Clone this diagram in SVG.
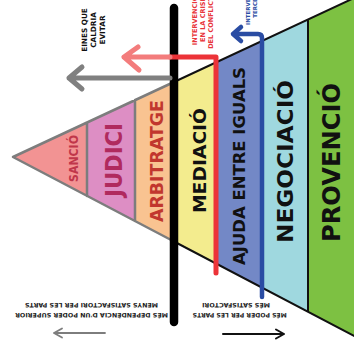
<svg xmlns="http://www.w3.org/2000/svg" width="354" height="355" viewBox="0 0 354 355">
<style>
.t{font-family:"DejaVu Sans","Liberation Sans",sans-serif;font-weight:bold;text-anchor:middle}
.edgeG{stroke:#7d7d7d;stroke-width:2.5;fill:none;stroke-linecap:round;stroke-linejoin:round}
.edgeK{stroke:#111;stroke-width:2;fill:none}
.arr{fill:none;stroke-linecap:round;stroke-linejoin:round}
.small{font-size:6px;fill:#222}
</style>
<rect width="354" height="355" fill="#fff"/>
<g id="sancio"><polygon points="13,157 87,122.5 87,195.9" fill="#f29393"/>
<text class="t" transform="translate(78,158.5) rotate(-90)" font-size="11.5" fill="#c0364a" textLength="47" lengthAdjust="spacingAndGlyphs">SANCIÓ</text></g>
<g id="judici"><polygon points="87,122.5 135,100.1 135,221.1 87,195.9" fill="#dd8ec4"/>
<text class="t" transform="translate(121.5,160) rotate(-90)" font-size="23" fill="#b02a5e" textLength="74" lengthAdjust="spacingAndGlyphs">JUDICI</text></g>
<g id="arbitratge"><polygon points="135,100.1 174,82 174,241.5 135,221.1" fill="#f9c391"/>
<text class="t" transform="translate(163,161) rotate(-90)" font-size="18.5" fill="#c1372e" textLength="122" lengthAdjust="spacingAndGlyphs">ARBITRATGE</text></g>
<g id="mediacio"><polygon points="174,82 216,62.4 216,263.6 174,241.5" fill="#f3ec8e"/>
<text class="t" transform="translate(206,160.5) rotate(-90)" font-size="18" fill="#111" textLength="105" lengthAdjust="spacingAndGlyphs">MEDIACIÓ</text></g>
<g id="ajuda"><polygon points="216,62.4 262,41 262,287.7 216,263.6" fill="#7388c6"/>
<text class="t" transform="translate(245,166) rotate(-90)" font-size="16.5" fill="#111" textLength="198" lengthAdjust="spacingAndGlyphs">AJUDA ENTRE IGUALS</text></g>
<g id="negociacio"><polygon points="262,41 308,19.5 308,311.9 262,287.7" fill="#9fd8df"/>
<text class="t" transform="translate(293,161.5) rotate(-90)" font-size="22" fill="#111" textLength="163" lengthAdjust="spacingAndGlyphs">NEGOCIACIÓ</text></g>
<g id="provencio"><polygon points="308,19.5 356,-2.9 356,337 308,311.9" fill="#7dc142"/>
<text class="t" transform="translate(340,162.5) rotate(-90)" font-size="24" fill="#111" textLength="159" lengthAdjust="spacingAndGlyphs">PROVENCIÓ</text></g>
<g id="outlines">
<path class="edgeG" d="M174,82 L13,157 L174,241.5 M87,122.5 V195.9 M135,100.1 V221.1"/>
<path class="edgeK" d="M174,82 L356,-2.9 M174,241.5 L356,337 M308,19.5 V311.9"/>
</g>
<g id="divider"><line x1="174" y1="8" x2="174" y2="322" stroke="#000" stroke-width="8.5" stroke-linecap="round"/></g>
<g id="connectors">
<path class="arr" stroke="#808080" stroke-width="5" d="M170,78 H69 M82,67 L69,78 L82,89"/>
<path class="arr" stroke="#ec3338" stroke-width="5" d="M216,273 V57 H170"/>
<path class="arr" stroke="#f37c7c" stroke-width="5" d="M170,57 H124 M138,47 L124,57 L139,70"/>
<path class="arr" stroke="#2a4ca3" stroke-width="4.5" d="M262,297 V38 Q262,34 258,34 H233 M241,27 L233,34 L241,41"/>
<path class="arr" stroke="#7d7d7d" stroke-width="1.8" d="M105,333 H54 M62,328.5 L54,333 L62,337.5"/>
<path class="arr" stroke="#111" stroke-width="2" d="M223,334 H284 M276,329.5 L284,334 L276,338.5"/>
</g>
<g id="labels">
<text class="t" font-size="7.3" fill="#111" transform="translate(87,30) rotate(-90)">EINES QUE</text>
<text class="t" font-size="7.3" fill="#111" transform="translate(96,30) rotate(-90)">CALDRIA</text>
<text class="t" font-size="7.3" fill="#111" transform="translate(105,30) rotate(-90)">EVITAR</text>
<text class="t" font-size="6.5" fill="#e8343a" transform="translate(197,20.5) rotate(-90)">INTERVENCIÓ</text>
<text class="t" font-size="6.5" fill="#e8343a" transform="translate(205,20.5) rotate(-90)">EN LA CRISI</text>
<text class="t" font-size="6.5" fill="#e8343a" transform="translate(212.5,20.5) rotate(-90)">DEL CONFLICTE</text>
<text class="t" font-size="5.5" fill="#2a4ca3" transform="translate(250,4) rotate(-90)">INTERVENCIÓ</text>
<text class="t" font-size="5.5" fill="#2a4ca3" transform="translate(256.5,4) rotate(-90)">TERCERS</text>
<text class="t small" transform="translate(91.5,313) rotate(180)" textLength="153" lengthAdjust="spacingAndGlyphs">MÉS DEPENDÈNCIA D'UN PODER SUPERIOR</text>
<text class="t small" transform="translate(91.5,303) rotate(180)" textLength="133" lengthAdjust="spacingAndGlyphs">MENYS SATISFACTORI PER LES PARTS</text>
<text class="t small" transform="translate(239.7,313) rotate(180)" textLength="94" lengthAdjust="spacingAndGlyphs">MÉS PODER PER LES PARTS</text>
<text class="t small" transform="translate(236,303) rotate(180)" textLength="68" lengthAdjust="spacingAndGlyphs">MÉS SATISFACTORI</text>
</g>
</svg>
